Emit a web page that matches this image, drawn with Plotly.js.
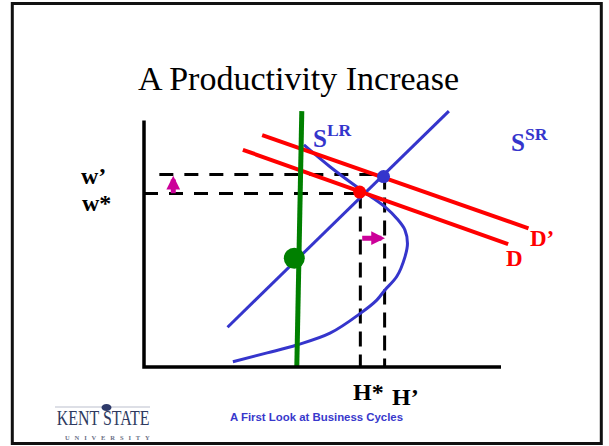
<!DOCTYPE html>
<html><head><meta charset="utf-8">
<script src="https://cdn.plot.ly/plotly-3.0.1.min.js"></script>
<style>html,body{margin:0;padding:0;background:#fff;}#chart{width:609px;height:446px;}</style>
</head><body><div id="chart"></div>
<script>
// axes of the labour market diagram (hours H, real wage w)
const axisH = [0, 0, 100];
const axisW = [70, 0, 0];
// long-run labour supply (green, nearly vertical)
const lrH = [44.2, 42.8];
const lrW = [72.7, 0];
// short-run labour supply (blue straight line)
const srH = [23.4, 85.4];
const srW = [11.3, 72.7];
// backward-bending supply curve
const curveH = [24.9, 34.5, 42.8, 52.1, 60.7, 65.2, 67.5, 70.8, 73.1, 73.8, 73.1, 70.8, 67.5, 63.3, 59.6, 52.1, 44.8];
const curveW = [1.5, 4.0, 6.25, 9.6, 15.3, 19.0, 21.9, 25.7, 31.3, 35.1, 38.9, 42.2, 45.5, 48.6, 51.2, 56.9, 63.1];
// labour demand before (D) and after (D') the productivity increase
const demandH = [27.7, 102.0];
const demandW = [61.7, 34.9];
const demand2H = [33.1, 107.7];
const demand2W = [65.9, 39.4];
// equilibrium levels
const wStar = 49.3, wPrime = 54.7, hStar = 60.6, hPrime = 67.4;
const wPrimeStartH = 4.3;
const eqOldH = [60.4], eqOldW = [49.7];
const eqNewH = [67.1], eqNewW = [54.1];
const lrEqH = [42.1], lrEqW = [30.9];
// shift arrows [tailH, tailW, headH, headW]
const wageArrow = [8.2, 48.9, 8.2, 54.3];
const hoursArrow = [60.7, 36.6, 67.5, 36.6];
// labels
const labelTexts = ['w’', 'w*', 'H*', 'H’', 'D’', 'D', 'S<sup>LR</sup>', 'S<sup>SR</sup>'];

const BLUE = '#3535CC', RED = '#FF0000', GREEN = '#008000', MAG = '#CC0099';
const dash = {color: '#000', width: 3, dash: '14px,11px'};
const vdash = {color: '#000', width: 3, dash: '15px,8px'};
const L = (x, y, line, extra) => Object.assign({type: 'scatter', mode: 'lines', x: x, y: y, line: line, hoverinfo: 'skip'}, extra || {});

const traces = [
  L([0, hStar], [wStar, wStar], dash),
  L([wPrimeStartH, hPrime], [wPrime, wPrime], dash),
  L([hStar, hStar], [wStar, 0], vdash),
  L([hPrime, hPrime], [wPrime, 0], vdash),
  L(curveH, curveW, {color: BLUE, width: 3, shape: 'spline', smoothing: 1}),
  L(srH, srW, {color: BLUE, width: 3}),
  L(demandH, demandW, {color: RED, width: 4}),
  L(demand2H, demand2W, {color: RED, width: 4}),
  L(lrH, lrW, {color: GREEN, width: 5}),
  L(axisH, axisW, {color: '#000', width: 3.5}),
  {type: 'scatter', mode: 'markers', x: lrEqH, y: lrEqW, marker: {color: GREEN, size: 21}, hoverinfo: 'skip'},
  {type: 'scatter', mode: 'markers', x: eqOldH, y: eqOldW, marker: {color: RED, size: 13}, hoverinfo: 'skip'},
  {type: 'scatter', mode: 'markers', x: eqNewH, y: eqNewW, marker: {color: BLUE, size: 13}, hoverinfo: 'skip'}
];

const serifB = (size, color) => ({family: 'Liberation Serif, Times New Roman, serif', size: size, color: color, weight: 'bold'});
const lab = (i, x, y, font) => ({text: '<b>' + labelTexts[i] + '</b>', x: x, y: y, xref: 'x', yref: 'y', showarrow: false, font: font, xanchor: 'center', yanchor: 'middle'});
const arrow = (a) => ({x: a[2], y: a[3], ax: a[0], ay: a[1], xref: 'x', yref: 'y', axref: 'x', ayref: 'y', text: '', showarrow: true, arrowhead: 2, arrowsize: 0.55, arrowwidth: 5, arrowcolor: MAG, standoff: 0});

const annotations = [
  lab(0, -14.1, 54.4, serifB(24, '#000')),
  lab(1, -13.3, 46.5, serifB(24, '#000')),
  lab(2, 62.9, -7.0, serifB(24, '#000')),
  lab(3, 73.2, -8.4, serifB(24, '#000')),
  lab(4, 111.4, 36.4, serifB(23, RED)),
  lab(5, 103.7, 30.8, serifB(23, RED)),
  lab(6, 52.7, 65.6, serifB(25, BLUE)),
  lab(7, 107.9, 64.5, serifB(25, BLUE)),
  arrow(wageArrow),
  arrow(hoursArrow),
  {text: '<b>A First Look at Business Cycles</b>', xref: 'paper', yref: 'paper', x: 316/609, y: 1 - 416.5/446, showarrow: false, xanchor: 'center', yanchor: 'middle', font: {family: 'Liberation Sans, Arial, sans-serif', size: 11.4, color: '#3838CC'}},
  {text: 'KENT STATE', xref: 'paper', yref: 'paper', x: 102.5/609, y: 1 - 417.5/446, showarrow: false, xanchor: 'center', yanchor: 'middle', font: {family: 'Liberation Serif, serif', size: 21, color: '#2E3A60'}},
  {text: 'U\u00A0\u00A0\u00A0N\u00A0\u00A0\u00A0I\u00A0\u00A0\u00A0V\u00A0\u00A0\u00A0E\u00A0\u00A0\u00A0R\u00A0\u00A0\u00A0S\u00A0\u00A0\u00A0I\u00A0\u00A0\u00A0T\u00A0\u00A0\u00A0Y', xref: 'paper', yref: 'paper', x: 107.5/609, y: 1 - 437.5/446, showarrow: false, xanchor: 'center', yanchor: 'middle', font: {family: 'Liberation Serif, serif', size: 6.5, color: '#6A6F85', weight: 'bold'}}
];

const px = v => v / 609, py = v => 1 - v / 446;
const shapes = [
  {type: 'rect', xref: 'paper', yref: 'paper', x0: px(12.3), x1: px(601.3), y0: py(443.6), y1: py(3.4), line: {color: '#111', width: 3}},
  {type: 'line', xref: 'paper', yref: 'paper', x0: px(55), x1: px(150), y0: py(407), y1: py(407), line: {color: '#D2D5DE', width: 1.5}},
  {type: 'circle', xref: 'paper', yref: 'paper', x0: px(101.5), x1: px(111.5), y0: py(411), y1: py(404), fillcolor: '#2E3A6A', line: {width: 0}}
];

const layout = {
  width: 609, height: 446, autosize: false,
  margin: {l: 0, r: 0, t: 0, b: 0, pad: 0},
  paper_bgcolor: '#fff', plot_bgcolor: '#fff',
  showlegend: false,
  title: {text: 'A Productivity Increase', font: {family: 'Liberation Serif, Times New Roman, serif', size: 34, color: '#000'}, x: 298.5/609, xanchor: 'center', y: 1 - 78/446, yanchor: 'middle'},
  xaxis: {range: [-144/3.57, (609-144)/3.57], visible: false, fixedrange: true},
  yaxis: {range: [(367-446)/3.52, 367/3.52], visible: false, fixedrange: true},
  annotations: annotations,
  shapes: shapes
};

Plotly.newPlot('chart', traces, layout, {displayModeBar: false, staticPlot: true}).then(function (gd) {
  // condense the wordmark horizontally, as in the university logo
  const g = gd.querySelectorAll('.annotation')[11];
  if (g) {
    const t = g.querySelector('text');
    if (t) {
      const b = t.getBBox();
      const cx = b.x + b.width / 2;
      t.setAttribute('transform', 'translate(' + cx + ',0) scale(0.76,1) translate(' + (-cx) + ',0)');
    }
  }
});
</script></body></html>
